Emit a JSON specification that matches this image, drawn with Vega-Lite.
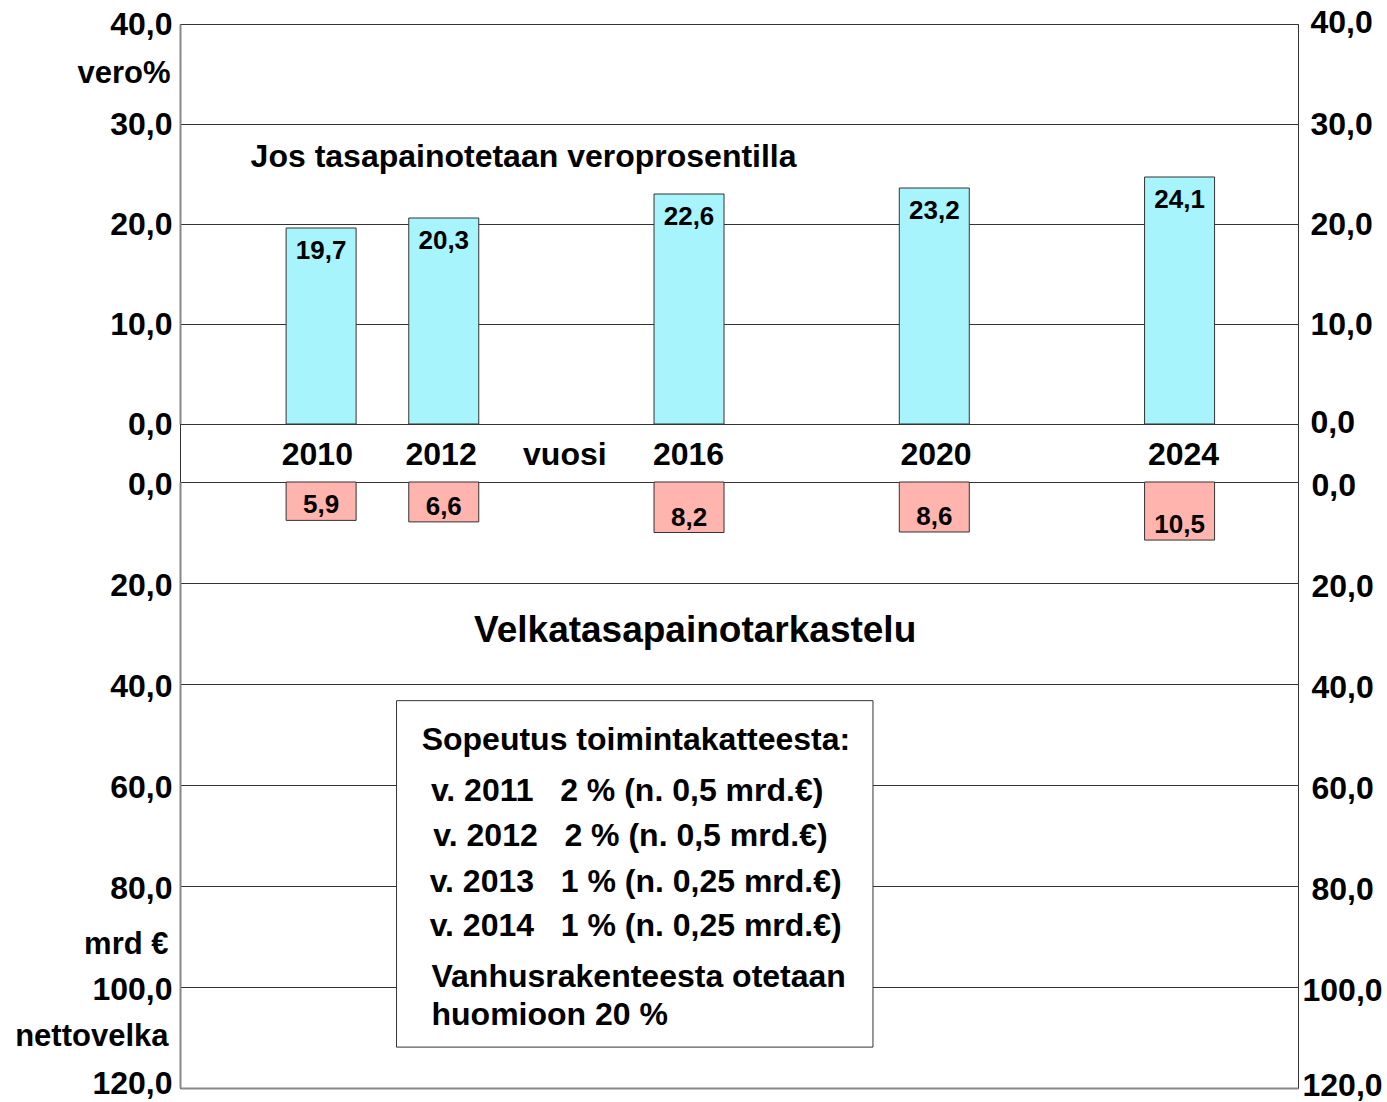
{
  "$schema": "https://vega.github.io/schema/vega-lite/v6.json",
  "padding": {"left": 14, "top": 5, "right": 3, "bottom": 0},
  "spacing": 0,
  "bounds": "flush",
  "config": {
    "font": "Liberation Sans",
    "view": {"stroke": "#333333", "strokeWidth": 1},
    "axis": {
      "labelFont": "Liberation Sans",
      "labelFontWeight": "bold",
      "labelFontSize": 32,
      "labelColor": "#000000",
      "labelFlush": false,
      "labelOverlap": false,
      "ticks": false,
      "tickSize": 0,
      "domain": false,
      "grid": false,
      "titleFont": "Liberation Sans",
      "titleFontWeight": "bold",
      "titleFontSize": 31,
      "titleColor": "#000000"
    },
    "text": {"font": "Liberation Sans", "fontWeight": "bold", "color": "#000000"}
  },
  "datasets": {
    "vero": [
      {"vuosi": 2010, "pylvas": 19.6, "teksti": "19,7"},
      {"vuosi": 2012, "pylvas": 20.6, "teksti": "20,3"},
      {"vuosi": 2016, "pylvas": 23.0, "teksti": "22,6"},
      {"vuosi": 2020, "pylvas": 23.6, "teksti": "23,2"},
      {"vuosi": 2024, "pylvas": 24.7, "teksti": "24,1"}
    ],
    "velka": [
      {"vuosi": 2010, "pylvas": 7.6, "teksti": "5,9"},
      {"vuosi": 2012, "pylvas": 7.9, "teksti": "6,6"},
      {"vuosi": 2016, "pylvas": 10.0, "teksti": "8,2"},
      {"vuosi": 2020, "pylvas": 9.9, "teksti": "8,6"},
      {"vuosi": 2024, "pylvas": 11.5, "teksti": "10,5"}
    ],
    "vuodet": [
      {"vuosi": 2010, "teksti": "2010"},
      {"vuosi": 2012, "teksti": "2012"},
      {"vuosi": 2014, "teksti": "vuosi"},
      {"vuosi": 2016, "teksti": "2016"},
      {"vuosi": 2020, "teksti": "2020"},
      {"vuosi": 2024, "teksti": "2024"}
    ]
  },
  "vconcat": [
    {
      "width": 1118,
      "height": 400,
      "data": {"name": "vero"},
      "layer": [
        {
          "mark": {"type": "bar", "width": 70, "fill": "#a8f4fc", "stroke": "#333333", "strokeWidth": 1},
          "encoding": {
            "x": {"field": "vuosi", "type": "quantitative", "scale": {"domain": [2007.78, 2025.85], "nice": false, "zero": false}, "axis": null},
            "y": {
              "field": "pylvas", "type": "quantitative",
              "scale": {"domain": [0, 40], "nice": false},
              "axis": {
                "orient": "left", "values": [0, 10, 20, 30, 40], "grid": true, "gridColor": "#333333", "gridWidth": 1,
                "labelPadding": 8, "labelExpr": "replace(format(datum.value, '.1f'), '.', ',')",
                "domain": true, "domainColor": "#888888", "domainWidth": 2,
                "title": "vero%", "titleAngle": 0, "titleAlign": "right", "titleBaseline": "alphabetic",
                "titleX": -10, "titleY": 58
              }
            }
          }
        },
        {
          "mark": {"type": "text", "fontSize": 26, "baseline": "alphabetic", "dy": 31},
          "encoding": {
            "x": {"field": "vuosi", "type": "quantitative", "axis": null},
            "y": {
              "field": "pylvas", "type": "quantitative",
              "axis": {"orient": "right", "values": [0, 10, 20, 30, 40], "labelPadding": 12, "labelOffset": {"condition": {"test": "datum.value == 0 || datum.value == 40", "value": -2}, "value": 0}, "labelExpr": "replace(format(datum.value, '.1f'), '.', ',')", "title": null}
            },
            "text": {"field": "teksti"}
          }
        },
        {
          "data": {"values": [{}]},
          "mark": {"type": "text", "fontSize": 32, "align": "left", "baseline": "alphabetic"},
          "encoding": {
            "x": {"datum": 2008.85, "type": "quantitative", "axis": null},
            "y": {"datum": 25.7, "type": "quantitative", "axis": null},
            "text": {"value": "Jos tasapainotetaan veroprosentilla"}
          }
        }
      ],
      "resolve": {"axis": {"y": "independent"}}
    },
    {
      "width": 1118,
      "height": 58,
      "data": {"name": "vuodet"},
      "mark": {"type": "text", "fontSize": 32, "baseline": "alphabetic", "dy": 12},
      "encoding": {
        "x": {"field": "vuosi", "type": "quantitative", "scale": {"domain": [2007.78, 2025.85], "nice": false, "zero": false}, "axis": null},
        "text": {"field": "teksti"}
      }
    },
    {
      "width": 1118,
      "height": 606,
      "data": {"name": "velka"},
      "layer": [
        {
          "mark": {"type": "bar", "width": 70, "fill": "#ffb4ae", "stroke": "#333333", "strokeWidth": 1},
          "encoding": {
            "x": {
              "field": "vuosi", "type": "quantitative", "scale": {"domain": [2007.78, 2025.85], "nice": false, "zero": false},
              "axis": {"orient": "bottom", "labels": false, "title": null, "domain": true, "domainColor": "#888888", "domainWidth": 2, "grid": false}
            },
            "y": {
              "field": "pylvas", "type": "quantitative",
              "scale": {"domain": [0, 120], "nice": false, "reverse": true},
              "axis": {
                "orient": "left", "values": [0, 20, 40, 60, 80, 100, 120], "grid": true, "gridColor": "#333333", "gridWidth": 1,
                "labelPadding": 8, "labelOffset": {"condition": {"test": "datum.value == 120", "value": -5}, "value": 2},
                "labelExpr": "replace(format(datum.value, '.1f'), '.', ',')",
                "domain": true, "domainColor": "#888888", "domainWidth": 2,
                "title": ["mrd €", "nettovelka"], "titleLineHeight": 92, "titleAngle": 0, "titleAlign": "right", "titleBaseline": "top",
                "titleX": -12, "titleY": 447
              }
            }
          }
        },
        {
          "mark": {"type": "text", "fontSize": 26, "baseline": "alphabetic", "dy": -7},
          "encoding": {
            "x": {"field": "vuosi", "type": "quantitative"},
            "y": {
              "field": "pylvas", "type": "quantitative",
              "axis": {
                "orient": "right", "values": [0, 20, 40, 60, 80, 100, 120],
                "labelPadding": {"condition": {"test": "datum.value >= 100", "value": 4}, "value": 13},
                "labelOffset": {"condition": {"test": "datum.value == 120", "value": -3}, "value": 3},
                "labelExpr": "replace(format(datum.value, '.1f'), '.', ',')", "title": null
              }
            },
            "text": {"field": "teksti"}
          }
        },
        {
          "data": {"values": [{}]},
          "mark": {"type": "text", "fontSize": 37, "align": "center", "baseline": "alphabetic"},
          "encoding": {
            "x": {"datum": 2016.1, "type": "quantitative"},
            "y": {"datum": 31.7, "type": "quantitative", "axis": null},
            "text": {"value": "Velkatasapainotarkastelu"}
          }
        },
        {
          "data": {"values": [{}]},
          "mark": {"type": "rect", "fill": "#ffffff", "stroke": "#333333", "strokeWidth": 1},
          "encoding": {
            "x": {"datum": 2011.23, "type": "quantitative"},
            "x2": {"datum": 2019.0},
            "y": {"datum": 43.3, "type": "quantitative", "axis": null},
            "y2": {"datum": 111.9}
          }
        },
        {
          "data": {"values": [{}]},
          "mark": {"type": "text", "fontSize": 32, "align": "left", "baseline": "alphabetic"},
          "encoding": {
            "x": {"datum": 2011.64, "type": "quantitative"},
            "y": {"datum": 53.1, "type": "quantitative", "axis": null},
            "text": {"value": "Sopeutus toimintakatteesta:"}
          }
        },
        {
          "data": {"values": [{}]},
          "mark": {"type": "text", "fontSize": 32, "align": "left", "baseline": "alphabetic"},
          "encoding": {
            "x": {"datum": 2011.79, "type": "quantitative"},
            "y": {"datum": 63.2, "type": "quantitative", "axis": null},
            "text": {"value": "v. 2011\u00a0\u00a0\u00a02 % (n. 0,5 mrd.€)"}
          }
        },
        {
          "data": {"values": [{}]},
          "mark": {"type": "text", "fontSize": 32, "align": "left", "baseline": "alphabetic"},
          "encoding": {
            "x": {"datum": 2011.83, "type": "quantitative"},
            "y": {"datum": 72.1, "type": "quantitative", "axis": null},
            "text": {"value": "v. 2012\u00a0\u00a0\u00a02 % (n. 0,5 mrd.€)"}
          }
        },
        {
          "data": {"values": [{}]},
          "mark": {"type": "text", "fontSize": 32, "align": "left", "baseline": "alphabetic"},
          "encoding": {
            "x": {"datum": 2011.77, "type": "quantitative"},
            "y": {"datum": 81.2, "type": "quantitative", "axis": null},
            "text": {"value": "v. 2013\u00a0\u00a0\u00a01 % (n. 0,25 mrd.€)"}
          }
        },
        {
          "data": {"values": [{}]},
          "mark": {"type": "text", "fontSize": 32, "align": "left", "baseline": "alphabetic"},
          "encoding": {
            "x": {"datum": 2011.77, "type": "quantitative"},
            "y": {"datum": 89.9, "type": "quantitative", "axis": null},
            "text": {"value": "v. 2014\u00a0\u00a0\u00a01 % (n. 0,25 mrd.€)"}
          }
        },
        {
          "data": {"values": [{}]},
          "mark": {"type": "text", "fontSize": 32, "align": "left", "baseline": "alphabetic"},
          "encoding": {
            "x": {"datum": 2011.8, "type": "quantitative"},
            "y": {"datum": 100.0, "type": "quantitative", "axis": null},
            "text": {"value": "Vanhusrakenteesta otetaan"}
          }
        },
        {
          "data": {"values": [{}]},
          "mark": {"type": "text", "fontSize": 32, "align": "left", "baseline": "alphabetic"},
          "encoding": {
            "x": {"datum": 2011.8, "type": "quantitative"},
            "y": {"datum": 107.5, "type": "quantitative", "axis": null},
            "text": {"value": "huomioon 20 %"}
          }
        }
      ],
      "resolve": {"axis": {"y": "independent"}}
    }
  ]
}
